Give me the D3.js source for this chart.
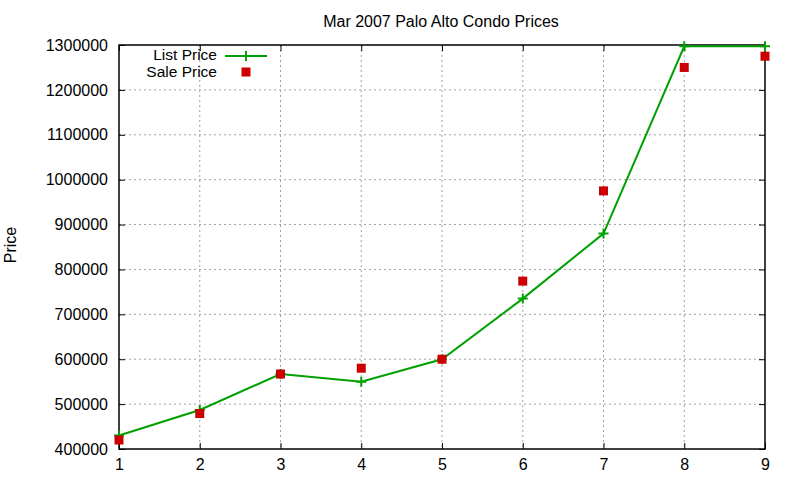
<!DOCTYPE html>
<html lang="en">
<head>
    <meta charset="UTF-8">
    <title>Mar 2007 Palo Alto Condo Prices</title>
    <script src="https://d3js.org/d3.v7.min.js"></script>
    <style>
        body { margin: 0; background: white; }
        svg { display: block; font-family: "Liberation Sans", Arial, sans-serif; }
    </style>
</head>
<body>
<svg id="chart" width="800" height="480"></svg>
<script>
    // Data
    const months = [1, 2, 3, 4, 5, 6, 7, 8, 9];
    const listPrice = [430000, 487000, 567000, 550000, 600000, 735000, 880000, 1297000, 1297000];
    const salePrice = [420000, 479000, 567000, 580000, 600000, 774000, 975000, 1250000, 1275000];
    const yTicks = [400000, 500000, 600000, 700000, 800000, 900000, 1000000, 1100000, 1200000, 1300000];

    const svg = d3.select('#chart'),
          margin = { top: 45, right: 35, bottom: 31, left: 119 },
          width = +svg.attr('width') - margin.left - margin.right,
          height = +svg.attr('height') - margin.top - margin.bottom;

    const green = '#00a000', red = '#cc0000';

    const g = svg.append('g').attr('transform', `translate(${margin.left},${margin.top})`);

    const x = d3.scaleLinear().domain([1, 9]).range([0, width]);
    const y = d3.scaleLinear().domain([400000, 1300000]).range([height, 0]);

    // grid
    g.append('g').selectAll('line')
        .data(months.slice(1, -1))
        .enter().append('line')
        .attr('x1', d => x(d)).attr('x2', d => x(d))
        .attr('y1', 0).attr('y2', height)
        .attr('stroke', '#a0a0a0').attr('stroke-dasharray', '2,3');

    g.append('g').selectAll('line')
        .data(yTicks.slice(1, -1))
        .enter().append('line')
        .attr('x1', 0).attr('x2', width)
        .attr('y1', d => y(d)).attr('y2', d => y(d))
        .attr('stroke', '#a0a0a0').attr('stroke-dasharray', '2,3');

    // axes with inward ticks, mirrored
    const styleAxis = sel => {
        sel.select('.domain').remove();
        sel.selectAll('.tick line').attr('stroke', 'black');
        sel.selectAll('.tick text').attr('fill', 'black').attr('font-size', 16);
    };

    g.append('g')
        .attr('transform', `translate(0,${height})`)
        .call(d3.axisBottom(x).tickValues(months).tickFormat(d3.format('d')).tickSizeInner(-6).tickPadding(10))
        .call(styleAxis);
    g.append('g')
        .call(d3.axisTop(x).tickValues(months).tickFormat('').tickSizeInner(-6))
        .call(styleAxis);
    g.append('g')
        .call(d3.axisLeft(y).tickValues(yTicks).tickFormat(d3.format('d')).tickSizeInner(-6).tickPadding(11))
        .call(styleAxis);
    g.append('g')
        .attr('transform', `translate(${width},0)`)
        .call(d3.axisRight(y).tickValues(yTicks).tickFormat('').tickSizeInner(-6))
        .call(styleAxis);

    g.append('rect')
        .attr('width', width).attr('height', height)
        .attr('fill', 'none').attr('stroke', 'black').attr('stroke-width', 1.5);

    // list price line + plus markers
    const line = d3.line()
        .x((d, i) => x(months[i]))
        .y(d => y(d));

    g.append('path')
        .datum(listPrice)
        .attr('fill', 'none')
        .attr('stroke', green)
        .attr('stroke-width', 2)
        .attr('d', line);

    g.append('g').selectAll('path')
        .data(listPrice)
        .enter().append('path')
        .attr('d', 'M-5,0H5M0,-5V5')
        .attr('transform', (d, i) => `translate(${x(months[i])},${y(d)})`)
        .attr('stroke', green).attr('stroke-width', 2);

    // sale price squares
    g.append('g').selectAll('rect')
        .data(salePrice)
        .enter().append('rect')
        .attr('x', (d, i) => x(months[i]) - 4.5)
        .attr('y', d => y(d) - 4.5)
        .attr('width', 9).attr('height', 9)
        .attr('fill', red);

    // title & label
    svg.append('text')
        .attr('x', 441).attr('y', 27)
        .attr('text-anchor', 'middle').attr('font-size', 16)
        .text('Mar 2007 Palo Alto Condo Prices');

    svg.append('text')
        .attr('transform', 'translate(16,245) rotate(-90)')
        .attr('text-anchor', 'middle').attr('font-size', 16)
        .text('Price');

    // legend
    const legend = svg.append('g');
    legend.append('text')
        .attr('x', 217).attr('y', 60)
        .attr('text-anchor', 'end').attr('font-size', 15.5)
        .text('List Price');
    legend.append('line')
        .attr('x1', 225).attr('x2', 267).attr('y1', 56).attr('y2', 56)
        .attr('stroke', green).attr('stroke-width', 2);
    legend.append('path')
        .attr('d', 'M-5,0H5M0,-5V5')
        .attr('transform', 'translate(246,56)')
        .attr('stroke', green).attr('stroke-width', 2);
    legend.append('text')
        .attr('x', 217).attr('y', 77)
        .attr('text-anchor', 'end').attr('font-size', 15.5)
        .text('Sale Price');
    legend.append('rect')
        .attr('x', 241.5).attr('y', 67.5).attr('width', 9).attr('height', 9)
        .attr('fill', red);
</script>
</body>
</html>
